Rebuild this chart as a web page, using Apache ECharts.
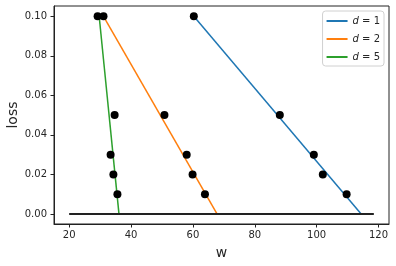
<!DOCTYPE html>
<html><head><meta charset="utf-8">
<script src="https://cdn.jsdelivr.net/npm/echarts@6/dist/echarts.min.js"></script>
<style>html,body{margin:0;padding:0;background:#fff}#c{width:396px;height:266px}</style>
</head><body><div id="c"></div>
<script>
const xTicks = [20, 40, 60, 80, 100, 120];
const yTicks = [0, 0.02, 0.04, 0.06, 0.08, 0.10];
const seriesNames = ['d = 1', 'd = 2', 'd = 5'];
const seriesColors = ['#1f77b4', '#ff7f0e', '#2ca02c'];
const lineD1 = [[60.3, 0.10], [114.4, 0.00]];
const lineD2 = [[31.1, 0.10], [67.8, 0.00]];
const lineD5 = [[29.7, 0.10], [36.1, 0.00]];
const pointsW = [29.2, 31.1, 60.3, 88.1, 99.1, 102.0, 109.7, 50.8, 58.0, 59.9, 63.9, 34.7, 33.4, 34.3, 35.6];
const pointsLoss = [0.10, 0.10, 0.10, 0.05, 0.03, 0.02, 0.01, 0.05, 0.03, 0.02, 0.01, 0.05, 0.03, 0.02, 0.01];
const baselineW = [20, 118.5];
const baselineLoss = [0, 0];

const lines = [lineD1, lineD2, lineD5];
const chart = echarts.init(document.getElementById('c'), null, {renderer: 'canvas'});
const tickColor = '#262626';
const series = lines.map((d, i) => ({
  name: seriesNames[i], type: 'line', data: d, showSymbol: false, symbol: 'none',
  lineStyle: {color: seriesColors[i], width: 1.5}, itemStyle: {color: seriesColors[i]},
  z: 2, animation: false
}));
series.push({
  name: 'points', type: 'scatter', data: pointsW.map((w, i) => [w, pointsLoss[i]]),
  symbolSize: 8, itemStyle: {color: '#000', opacity: 1}, z: 4, animation: false
});
series.push({
  name: 'baseline', type: 'line', data: baselineW.map((w, i) => [w, baselineLoss[i]]),
  showSymbol: false, symbol: 'none', lineStyle: {color: '#222', width: 2}, z: 3, animation: false
});
chart.setOption({
  animation: false,
  grid: {left: 54, right: 7, top: 6, bottom: 42, show: true, borderColor: '#222', borderWidth: 1,
    containLabel: false, outerBoundsMode: 'none'},
  xAxis: {
    type: 'value', min: 15.1, max: 123.4,
    name: 'w', nameLocation: 'middle', nameGap: 22, nameMoveOverlap: false,
    nameTextStyle: {fontSize: 14, color: tickColor, fontFamily: 'DejaVu Sans'},
    axisLine: {show: true, onZero: false, lineStyle: {color: '#222'}},
    axisTick: {show: true, length: 3.5, customValues: xTicks, lineStyle: {color: '#222'}},
    axisLabel: {customValues: xTicks, fontSize: 10, color: tickColor, margin: 6, fontFamily: 'DejaVu Sans'},
    splitLine: {show: false}
  },
  yAxis: {
    type: 'value', min: -0.0051, max: 0.1052,
    name: 'loss', nameLocation: 'middle', nameGap: 34, nameMoveOverlap: false,
    nameTextStyle: {fontSize: 14, color: tickColor, fontFamily: 'DejaVu Sans'},
    axisLine: {show: true, onZero: false, lineStyle: {color: '#222'}},
    axisTick: {show: true, length: 3.5, customValues: yTicks, lineStyle: {color: '#222'}},
    axisLabel: {customValues: yTicks, fontSize: 10, color: tickColor, margin: 7, fontFamily: 'DejaVu Sans',
      formatter: v => v.toFixed(2)},
    splitLine: {show: false}
  },
  legend: {
    data: seriesNames.map((n, i) => ({name: n, icon: 'rect', itemStyle: {color: seriesColors[i]}})),
    orient: 'vertical', right: 12, top: 11, itemWidth: 21, itemHeight: 2, itemGap: 8,
    backgroundColor: '#fff', borderColor: '#d0d0d0', borderWidth: 1, borderRadius: 3,
    padding: [5, 4, 4, 4],
    formatter: n => '{i|d}{n|' + n.slice(1) + '}',
    textStyle: {
      fontSize: 10, color: tickColor, fontFamily: 'DejaVu Sans',
      rich: {i: {fontStyle: 'italic', fontSize: 10, color: tickColor, fontFamily: 'DejaVu Sans'},
             n: {fontSize: 10, color: tickColor, fontFamily: 'DejaVu Sans'}}
    }
  },
  series: series
});
</script></body></html>
